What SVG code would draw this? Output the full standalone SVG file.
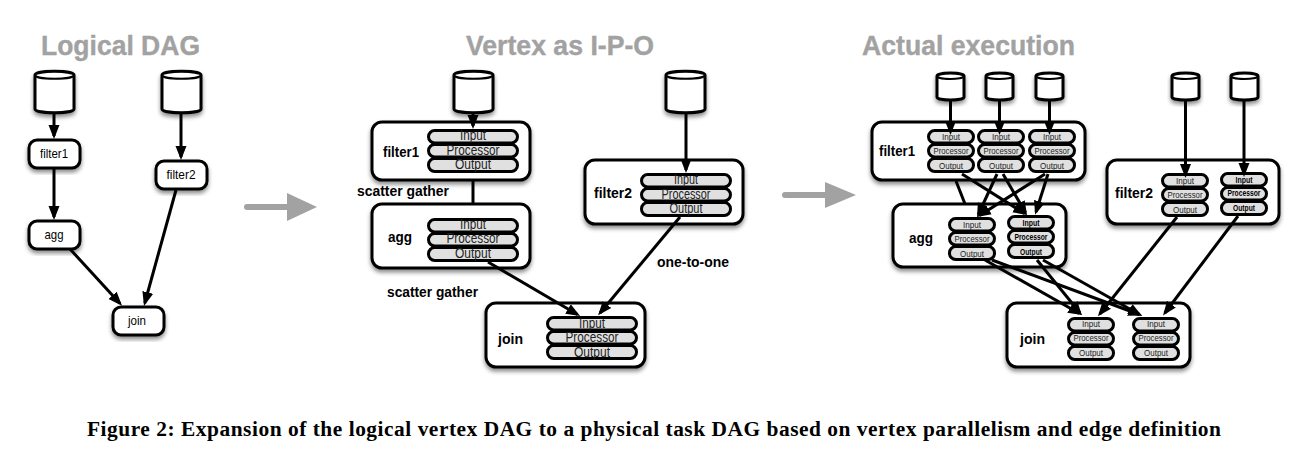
<svg xmlns="http://www.w3.org/2000/svg" xmlns:xlink="http://www.w3.org/1999/xlink" width="1291" height="462" viewBox="0 0 1291 462">
<style>
text{font-family:"Liberation Sans",Arial,sans-serif;fill:#000}
.title{font-size:28.5px;font-weight:bold;fill:#a2a2a2;stroke:#a2a2a2;stroke-width:.4}
.cap{font-family:"Liberation Serif","Times New Roman",serif;font-size:21.4px;font-weight:bold}
.box{fill:#fff;stroke:#000;stroke-width:3;filter:url(#sh)}
.pill{fill:#e0e0e0;stroke:#000;stroke-width:3}
.cy{fill:#fff;stroke:#000;stroke-width:3;stroke-linejoin:round;filter:url(#sh)}
.nm{font-size:13.5px;text-anchor:middle}
.lb{font-size:15.5px;font-weight:bold}
.m{font-size:14px;text-anchor:middle;fill:#222}
.s{font-size:9.5px;text-anchor:middle;fill:#222}
.b{font-weight:bold;fill:#000}
.e{stroke:#000;stroke-width:3;fill:none;marker-end:url(#ah)}
.n{stroke:#000;stroke-width:3;fill:none}
.g{stroke:#a2a2a2;stroke-width:6;stroke-linecap:round;fill:none}
.gh{fill:#a2a2a2}
</style>
<defs>
<filter id="sh" x="-15%" y="-15%" width="130%" height="140%"><feDropShadow dx="0" dy="3" stdDeviation="2" flood-color="#000" flood-opacity="0.45"/></filter>
<marker id="ah" markerUnits="userSpaceOnUse" markerWidth="14" markerHeight="12" refX="11" refY="6" orient="auto"><path d="M0,0.5 L14,6 L0,11.5 Z" fill="#000"/></marker>
<symbol id="cylB" width="43" height="46" overflow="visible"><path class="cy" d="M2,6 C2,1 41,1 41,6 V40 C41,45 2,45 2,40 Z"/><path d="M2,6 C2,11 41,11 41,6" fill="none" stroke="#000" stroke-width="2.2"/></symbol>
<symbol id="cylS" width="31" height="31" overflow="visible"><path class="cy" d="M2,5 C2,1 29,1 29,5 V26 C29,30 2,30 2,26 Z"/><path d="M2,5 C2,9 29,9 29,5" fill="none" stroke="#000" stroke-width="2.2"/></symbol>
<symbol id="stM" width="92" height="45"><rect class="pill" x="1.5" y="1.5" width="89" height="12.5" rx="6.2"/><rect class="pill" x="1.5" y="15.5" width="89" height="12.5" rx="6.2"/><rect class="pill" x="1.5" y="29.5" width="89" height="13" rx="6.2"/></symbol>
<symbol id="stS" width="48" height="45"><rect class="pill" x="1.5" y="1.5" width="45" height="12.5" rx="6.2"/><rect class="pill" x="1.5" y="15.5" width="45" height="12.5" rx="6.2"/><rect class="pill" x="1.5" y="29.5" width="45" height="13" rx="6.2"/></symbol>
</defs>
<rect width="1291" height="462" fill="#fff"/>

<text class="title" x="41" y="55" textLength="159" lengthAdjust="spacingAndGlyphs">Logical DAG</text>
<text class="title" x="466" y="55" textLength="188" lengthAdjust="spacingAndGlyphs">Vertex as I-P-O</text>
<text class="title" x="862" y="55" textLength="213" lengthAdjust="spacingAndGlyphs">Actual execution</text>

<g id="logical-cyl1"><use href="#cylB" x="33" y="69"/></g>
<g id="logical-cyl2"><use href="#cylB" x="160" y="69"/></g>
<g id="logical-filter1"><rect class="box" x="29" y="140" width="51" height="28" rx="8"/><text class="nm" x="54" y="158" textLength="28" lengthAdjust="spacingAndGlyphs">filter1</text></g>
<g id="logical-filter2"><rect class="box" x="156" y="161" width="51" height="28" rx="8"/><text class="nm" x="181" y="179" textLength="29" lengthAdjust="spacingAndGlyphs">filter2</text></g>
<g id="logical-agg"><rect class="box" x="29" y="221" width="51" height="28" rx="8"/><text class="nm" x="54" y="239" textLength="19" lengthAdjust="spacingAndGlyphs">agg</text></g>
<g id="logical-join"><rect class="box" x="113" y="307" width="51" height="28" rx="8"/><text class="nm" x="137" y="325" textLength="18" lengthAdjust="spacingAndGlyphs">join</text></g>

<g id="ipo-cyl1"><use href="#cylB" x="452" y="69"/></g>
<g id="ipo-cyl2"><use href="#cylB" x="664" y="69"/></g>
<g id="ipo-filter1"><rect class="box" x="372" y="122" width="158" height="58" rx="10"/><text class="lb" x="383" y="157" textLength="36" lengthAdjust="spacingAndGlyphs">filter1</text><use href="#stM" x="427" y="129"/><text class="m" x="473" y="140" textLength="26" lengthAdjust="spacingAndGlyphs">Input</text><text class="m" x="473" y="155" textLength="53" lengthAdjust="spacingAndGlyphs">Processor</text><text class="m" x="473" y="169" textLength="36" lengthAdjust="spacingAndGlyphs">Output</text></g>
<g id="ipo-agg"><rect class="box" x="372" y="204" width="158" height="64" rx="10"/><text class="lb" x="388" y="242" textLength="24" lengthAdjust="spacingAndGlyphs">agg</text><use href="#stM" x="427" y="218"/><text class="m" x="473" y="229" textLength="26" lengthAdjust="spacingAndGlyphs">Input</text><text class="m" x="473" y="243" textLength="53" lengthAdjust="spacingAndGlyphs">Processor</text><text class="m" x="473" y="258" textLength="36" lengthAdjust="spacingAndGlyphs">Output</text></g>
<g id="ipo-filter2"><rect class="box" x="585" y="160" width="158" height="64" rx="10"/><text class="lb" x="594" y="198" textLength="38" lengthAdjust="spacingAndGlyphs">filter2</text><use href="#stM" x="640" y="173"/><text class="m" x="686" y="184" textLength="24" lengthAdjust="spacingAndGlyphs">Input</text><text class="m" x="686" y="199" textLength="49" lengthAdjust="spacingAndGlyphs">Processor</text><text class="m" x="686" y="213" textLength="33" lengthAdjust="spacingAndGlyphs">Output</text></g>
<g id="ipo-join"><rect class="box" x="486" y="303" width="159" height="64" rx="10"/><text class="lb" x="498" y="344" textLength="25" lengthAdjust="spacingAndGlyphs">join</text><use href="#stM" x="546" y="316"/><text class="m" x="592" y="328" textLength="26" lengthAdjust="spacingAndGlyphs">Input</text><text class="m" x="592" y="342" textLength="53" lengthAdjust="spacingAndGlyphs">Processor</text><text class="m" x="592" y="357" textLength="36" lengthAdjust="spacingAndGlyphs">Output</text></g>

<g id="act-cyl1"><use href="#cylS" x="935" y="71"/></g>
<g id="act-cyl2"><use href="#cylS" x="984" y="71"/></g>
<g id="act-cyl3"><use href="#cylS" x="1034" y="71"/></g>
<g id="act-cyl4"><use href="#cylS" x="1170" y="71"/></g>
<g id="act-cyl5"><use href="#cylS" x="1229" y="71"/></g>
<g id="act-filter1"><rect class="box" x="872" y="122" width="213" height="58" rx="10"/><text class="lb" x="879" y="156" textLength="36" lengthAdjust="spacingAndGlyphs">filter1</text>
<use href="#stS" x="927" y="129"/><text class="s" x="951" y="140" textLength="18" lengthAdjust="spacingAndGlyphs">Input</text><text class="s" x="951" y="154" textLength="35" lengthAdjust="spacingAndGlyphs">Processor</text><text class="s" x="951" y="169" textLength="24" lengthAdjust="spacingAndGlyphs">Output</text>
<use href="#stS" x="977" y="129"/><text class="s" x="1001" y="140" textLength="18" lengthAdjust="spacingAndGlyphs">Input</text><text class="s" x="1001" y="154" textLength="35" lengthAdjust="spacingAndGlyphs">Processor</text><text class="s" x="1001" y="169" textLength="24" lengthAdjust="spacingAndGlyphs">Output</text>
<use href="#stS" x="1028" y="129"/><text class="s" x="1052" y="140" textLength="18" lengthAdjust="spacingAndGlyphs">Input</text><text class="s" x="1052" y="154" textLength="35" lengthAdjust="spacingAndGlyphs">Processor</text><text class="s" x="1052" y="169" textLength="24" lengthAdjust="spacingAndGlyphs">Output</text></g>
<g id="act-agg"><rect class="box" x="893" y="204" width="173" height="63" rx="10"/><text class="lb" x="909" y="243" textLength="24" lengthAdjust="spacingAndGlyphs">agg</text>
<use href="#stS" x="948" y="217"/><text class="s" x="972" y="228" textLength="18" lengthAdjust="spacingAndGlyphs">Input</text><text class="s" x="972" y="242" textLength="35" lengthAdjust="spacingAndGlyphs">Processor</text><text class="s" x="972" y="257" textLength="24" lengthAdjust="spacingAndGlyphs">Output</text>
<use href="#stS" x="1007" y="215"/><text class="s b" x="1031" y="226" textLength="17" lengthAdjust="spacingAndGlyphs">Input</text><text class="s b" x="1031" y="240" textLength="33" lengthAdjust="spacingAndGlyphs">Processor</text><text class="s b" x="1031" y="255" textLength="22" lengthAdjust="spacingAndGlyphs">Output</text></g>
<g id="act-filter2"><rect class="box" x="1107" y="160" width="172" height="64" rx="10"/><text class="lb" x="1115" y="198" textLength="38" lengthAdjust="spacingAndGlyphs">filter2</text>
<use href="#stS" x="1161" y="173"/><text class="s" x="1185" y="184" textLength="18" lengthAdjust="spacingAndGlyphs">Input</text><text class="s" x="1185" y="198" textLength="35" lengthAdjust="spacingAndGlyphs">Processor</text><text class="s" x="1185" y="213" textLength="24" lengthAdjust="spacingAndGlyphs">Output</text>
<use href="#stS" x="1220" y="172"/><text class="s b" x="1244" y="183" textLength="17" lengthAdjust="spacingAndGlyphs">Input</text><text class="s b" x="1244" y="196" textLength="33" lengthAdjust="spacingAndGlyphs">Processor</text><text class="s b" x="1244" y="211" textLength="22" lengthAdjust="spacingAndGlyphs">Output</text></g>
<g id="act-join"><rect class="box" x="1007" y="303" width="183" height="64" rx="10"/><text class="lb" x="1020" y="344" textLength="25" lengthAdjust="spacingAndGlyphs">join</text>
<use href="#stS" x="1067" y="317"/><text class="s" x="1091" y="327" textLength="18" lengthAdjust="spacingAndGlyphs">Input</text><text class="s" x="1091" y="341" textLength="35" lengthAdjust="spacingAndGlyphs">Processor</text><text class="s" x="1091" y="356" textLength="24" lengthAdjust="spacingAndGlyphs">Output</text>
<use href="#stS" x="1132" y="317"/><text class="s" x="1156" y="327" textLength="18" lengthAdjust="spacingAndGlyphs">Input</text><text class="s" x="1156" y="341" textLength="35" lengthAdjust="spacingAndGlyphs">Processor</text><text class="s" x="1156" y="356" textLength="24" lengthAdjust="spacingAndGlyphs">Output</text></g>

<g id="connectors">
<path class="e" d="M54,113 V136"/>
<path class="e" d="M54,168 V217"/>
<path class="e" d="M181,113 V157"/>
<path class="e" d="M176,190 L144.8,303"/>
<path class="e" d="M70,249 L120,303.5"/>

<path class="e" d="M473,113 V126"/>
<path class="e" d="M686,113 V170"/>
<path class="n" d="M473,180 V204"/>
<path class="e" d="M488,262 L577.5,314.5"/>
<path class="e" d="M680,217 L600,313"/>

<path class="e" d="M950.5,100 V132"/>
<path class="e" d="M999.5,100 V132"/>
<path class="e" d="M1049.5,100 V132"/>
<path class="e" d="M1185.5,99 V175"/>
<path class="e" d="M1244,99 V174"/>
<path class="n" d="M956,181 L965,204"/>
<path class="e" d="M962,174 L1024.5,213.5"/>
<path class="e" d="M997,174 L978.3,214.5"/>
<path class="e" d="M1045,174 L979.5,215.5"/>
<path class="e" d="M1003,174 L1025.5,212.5"/>
<path class="e" d="M1048,174 L1036,212"/>
<path class="e" d="M985,260 L1079.5,313.5"/>
<path class="e" d="M992,260 L1139.3,314.5"/>
<path class="e" d="M1037,260 L1080,313"/>
<path class="e" d="M1043,260 L1139.5,314.5"/>
<path class="e" d="M1177,217 L1099.8,314"/>
<path class="e" d="M1238,216 L1164.8,313"/>

<path class="g" d="M247,207 H288"/><polygon class="gh" points="287,193 317,207 287,221"/>
<path class="g" d="M785,195 H826"/><polygon class="gh" points="825,182 856,195 825,208"/>
</g>

<text class="lb" x="357" y="196" textLength="92" lengthAdjust="spacingAndGlyphs">scatter gather</text>
<text class="lb" x="387" y="297" textLength="91" lengthAdjust="spacingAndGlyphs">scatter gather</text>
<text class="lb" x="657" y="267" textLength="72" lengthAdjust="spacingAndGlyphs">one-to-one</text>
<text class="cap" x="87" y="436" textLength="1134">Figure 2: Expansion of the logical vertex DAG to a physical task DAG based on vertex parallelism and edge definition</text>
</svg>
